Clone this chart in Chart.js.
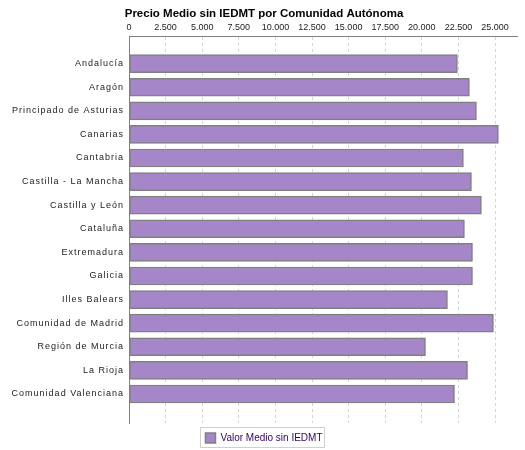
<!DOCTYPE html>
<html>
<head>
<meta charset="utf-8">
<script src="https://cdn.jsdelivr.net/npm/chart.js@4.4.0/dist/chart.umd.min.js"></script>
<style>
  html, body { margin: 0; padding: 0; background: #fff; }
  #wrap { width: 525px; height: 450px; }
</style>
</head>
<body>
<div id="wrap"><canvas id="chart"></canvas></div>
<script>
const comunidades = [
    "Andalucía", "Aragón", "Principado de Asturias", "Canarias", "Cantabria",
    "Castilla - La Mancha", "Castilla y León", "Cataluña", "Extremadura", "Galicia",
    "Illes Balears", "Comunidad de Madrid", "Región de Murcia", "La Rioja", "Comunidad Valenciana"
];
const valorMedio = [
    22430, 23250, 23730, 25230, 22840,
    23390, 24070, 22910, 23460, 23460,
    21750, 24890, 20250, 23120, 22230
];
const xTicks = [0, 2500, 5000, 7500, 10000, 12500, 15000, 17500, 20000, 22500, 25000];

// letter spaced labels on the category axis (drawn after the bars)
const spacing = {
    id: 'spacing',
    afterDatasetsDraw(chart) { chart.ctx.letterSpacing = '1px'; },
    afterDraw(chart) { chart.ctx.letterSpacing = '0px'; }
};

// thin grey frame round the legend
const legendBox = {
    id: 'legendBox',
    afterDraw(chart) {
        const hb = chart.legend.legendHitBoxes[0];
        if (!hb) return;
        const ctx = chart.ctx;
        ctx.save();
        ctx.strokeStyle = '#d0d0d0';
        ctx.lineWidth = 1;
        ctx.strokeRect(Math.round(hb.left) - 4.5, Math.round(hb.top) - 5.5, Math.round(hb.width) + 7, Math.round(hb.height) + 10);
        ctx.restore();
    }
};

new Chart(document.getElementById('chart'), {
    type: 'bar',
    data: {
        datasets: [{
            label: 'Valor Medio sin IEDMT',
            data: valorMedio.map((v, i) => ({ x: v, y: i })),
            backgroundColor: '#a586c8',
            borderColor: '#808080',
            borderWidth: 1.5,
            borderSkipped: false,
            barThickness: 18
        }]
    },
    plugins: [spacing, legendBox],
    options: {
        indexAxis: 'y',
        responsive: true,
        maintainAspectRatio: false,
        animation: false,
        layout: { padding: { left: 11, right: 8, top: 0, bottom: -3 } },
        plugins: {
            title: {
                display: true,
                text: 'Precio Medio sin IEDMT por Comunidad Autónoma',
                font: { family: 'Liberation Sans', size: 11.5, weight: 'bold' },
                color: '#000',
                padding: { top: 7, bottom: 0 }
            },
            legend: {
                position: 'bottom',
                labels: {
                    font: { family: 'Liberation Sans', size: 10 },
                    color: '#330066',
                    boxWidth: 10,
                    boxHeight: 10,
                    padding: 10
                }
            },
            tooltip: { enabled: false }
        },
        scales: {
            x: {
                position: 'top',
                min: 0,
                max: 26500,
                afterBuildTicks: s => { s.ticks = xTicks.map(v => ({ value: v })); },
                afterFit: s => { s.height = 36 - 20.8; },
                ticks: {
                    padding: 3,
                    font: { family: 'Liberation Sans', size: 9 },
                    color: '#222',
                    maxRotation: 0,
                    callback: v => v.toLocaleString('de-DE')
                },
                grid: { color: '#d4d4d4', drawTicks: false },
                border: { color: '#808080', width: 1, dash: [3, 3] }
            },
            y: {
                type: 'linear',
                reverse: true,
                offset: false,
                min: -1.17,
                max: 15.23,
                afterBuildTicks: s => { s.ticks = comunidades.map((c, i) => ({ value: i })); },
                afterFit: s => { s.width = 118; },
                ticks: {
                    z: 1,
                    padding: 5,
                    font: { family: 'Liberation Sans', size: 9 },
                    color: '#222',
                    callback: v => comunidades[v]
                },
                grid: { display: false, drawTicks: false },
                border: { color: '#808080', width: 1 }
            }
        }
    }
});
</script>
</body>
</html>
